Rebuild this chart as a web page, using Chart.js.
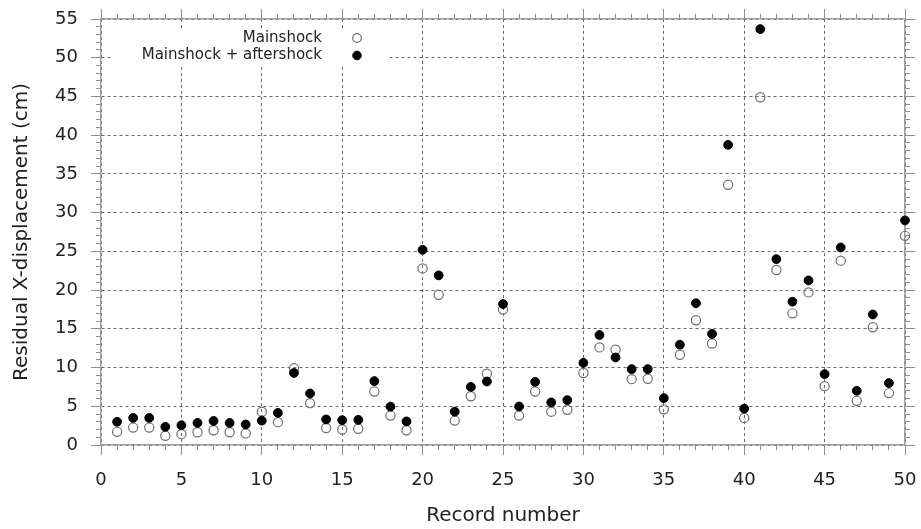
<!DOCTYPE html>
<html>
<head>
<meta charset="utf-8">
<script src="https://cdn.jsdelivr.net/npm/chart.js@4.4.1/dist/chart.umd.min.js"></script>
<style>
  html, body { margin: 0; padding: 0; background: #ffffff; }
  #wrap { width: 921px; height: 529px; }
</style>
</head>
<body>
<div id="wrap"><canvas id="chart" width="921" height="529"></canvas></div>
<script>
// Residual X-displacement per ground-motion record
const recordNumbers = [
  1, 2, 3, 4, 5, 6, 7, 8, 9, 10,
  11, 12, 13, 14, 15, 16, 17, 18, 19, 20,
  21, 22, 23, 24, 25, 26, 27, 28, 29, 30,
  31, 32, 33, 34, 35, 36, 37, 38, 39, 40,
  41, 42, 43, 44, 45, 46, 47, 48, 49, 50
];
const mainshock = [
  1.7, 2.25, 2.25, 1.2, 1.4, 1.65, 1.9, 1.65, 1.5, 4.3,
  2.95, 9.9, 5.4, 2.2, 2.0, 2.1, 6.9, 3.8, 1.9, 22.8,
  19.4, 3.15, 6.3, 9.2, 17.5, 3.8, 6.9, 4.3, 4.55, 9.3,
  12.6, 12.3, 8.5, 8.55, 4.6, 11.65, 16.1, 13.1, 33.6, 3.5,
  44.9, 22.6, 17.0, 19.7, 7.6, 23.8, 5.7, 15.2, 6.7, 27.0
];
const mainshockAftershock = [
  3.0, 3.5, 3.5, 2.35, 2.55, 2.85, 3.1, 2.85, 2.65, 3.15,
  4.15, 9.3, 6.65, 3.3, 3.2, 3.25, 8.25, 4.95, 3.05, 25.2,
  21.9, 4.3, 7.5, 8.2, 18.2, 4.97, 8.15, 5.5, 5.8, 10.6,
  14.2, 11.3, 9.8, 9.8, 6.05, 12.95, 18.3, 14.35, 38.75, 4.7,
  53.7, 24.0, 18.5, 21.25, 9.15, 25.5, 7.0, 16.85, 8.0, 29.0
];
const xMajorTicks = [0, 5, 10, 15, 20, 25, 30, 35, 40, 45, 50];
const yMajorTicks = [0, 5, 10, 15, 20, 25, 30, 35, 40, 45, 50, 55];
const seriesLabels = ['Mainshock', 'Mainshock + aftershock'];
const axisTitles = { x: 'Record number', y: 'Residual X-displacement (cm)' };

const FONT = "'DejaVu Sans', 'Liberation Sans', sans-serif";
const TEXT = '#222222';
const FRAME = '#a0a0a0';
const TICK = '#8c8c8c';
const GRID = 'rgba(70,70,70,0.8)';

Chart.defaults.font.family = FONT;
Chart.defaults.color = TEXT;

const toPoints = (ys) => recordNumbers.map((x, i) => ({ x: x, y: ys[i] }));
const everyUnit = (lo, hi) => { const t = []; for (let v = lo; v <= hi; v++) t.push({ value: v }); return t; };
const setTicks = (list) => (s) => { s.ticks = list.map(v => ({ value: v })); };

// fixed box size; end labels may overhang into the margins
function fixBox(horiz, size) {
  return (s) => {
    if (horiz) s.height = size; else s.width = size;
    s.paddingLeft = s.paddingRight = s.paddingTop = s.paddingBottom = 0;
  };
}

// major axis (labelled or frame side) and its minor companion
function majorAxis(position, min, max, ticks, size, extra) {
  const horiz = position === 'top' || position === 'bottom';
  return Object.assign({
    type: 'linear', position: position, min: min, max: max, weight: 0,
    afterBuildTicks: setTicks(ticks),
    afterFit: fixBox(horiz, size),
    grid: { drawOnChartArea: false, tickLength: 10, tickColor: TICK, tickWidth: 1, color: GRID },
    border: { display: true, color: FRAME, width: 1.5 },
    ticks: { display: false, autoSkip: false }
  }, extra || {});
}
function minorAxis(position, min, max) {
  const horiz = position === 'top' || position === 'bottom';
  return {
    type: 'linear', position: position, min: min, max: max, weight: -1,
    afterBuildTicks: (s) => { s.ticks = everyUnit(min, max); },
    afterFit: fixBox(horiz, 0),
    grid: { drawOnChartArea: false, tickLength: 5, tickColor: TICK, tickWidth: 1 },
    border: { display: false },
    ticks: { display: false, autoSkip: false }
  };
}

// legend drawn inside the plot, on a white patch, text right-aligned before the marker
const insideLegend = {
  id: 'insideLegend',
  afterDatasetsDraw(chart) {
    const ctx = chart.ctx;
    const a = chart.chartArea;
    ctx.save();
    ctx.fillStyle = '#ffffff';
    ctx.fillRect(a.left + 11, a.top + 10, 276, 38);
    ctx.font = '15px ' + FONT;
    ctx.textAlign = 'right';
    ctx.textBaseline = 'middle';
    const rows = [a.top + 19, a.top + 36.5];
    chart.data.datasets.forEach((ds, i) => {
      const y = rows[i];
      ctx.fillStyle = TEXT;
      ctx.fillText(ds.label, a.left + 221, y);
      ctx.beginPath();
      ctx.arc(a.left + 256, y, 4.3, 0, Math.PI * 2);
      ctx.lineWidth = ds.borderWidth;
      ctx.strokeStyle = ds.borderColor;
      if (ds.backgroundColor !== 'rgba(0,0,0,0)') { ctx.fillStyle = ds.backgroundColor; ctx.fill(); }
      ctx.stroke();
    });
    ctx.restore();
  }
};

new Chart(document.getElementById('chart'), {
  type: 'scatter',
  data: {
    datasets: [
      {
        label: seriesLabels[0],
        data: toPoints(mainshock),
        pointRadius: 4.6, pointHoverRadius: 4.6,
        borderWidth: 1.2, borderColor: '#6f6f6f', backgroundColor: 'rgba(0,0,0,0)',
        order: 1, clip: false
      },
      {
        label: seriesLabels[1],
        data: toPoints(mainshockAftershock),
        pointRadius: 4.4, pointHoverRadius: 4.4,
        borderWidth: 1, borderColor: '#000000', backgroundColor: '#000000',
        order: 0, clip: false
      }
    ]
  },
  options: {
    responsive: false,
    animation: false,
    devicePixelRatio: 1,
    layout: { padding: 0 },
    plugins: { legend: { display: false }, tooltip: { enabled: false } },
    scales: {
      x: majorAxis('bottom', 0, 50, xMajorTicks, 84, {
        grid: { drawOnChartArea: true, tickLength: 10, tickColor: TICK, tickWidth: 1, color: GRID, lineWidth: 1 },
        border: { display: true, color: FRAME, width: 1.5, dash: [3, 3] },
        ticks: { display: true, autoSkip: false, maxRotation: 0, padding: 15, font: { size: 18 }, color: TEXT },
        title: { display: true, text: axisTitles.x, font: { size: 20 }, color: TEXT, padding: { top: 0, bottom: 1 } }
      }),
      xMinor: minorAxis('bottom', 0, 50),
      xTop: majorAxis('top', 0, 50, xMajorTicks, 19),
      xTopMinor: minorAxis('top', 0, 50),
      y: majorAxis('left', 0, 55, yMajorTicks, 101, {
        grid: { drawOnChartArea: true, tickLength: 10, tickColor: TICK, tickWidth: 1, color: GRID, lineWidth: 1 },
        border: { display: true, color: FRAME, width: 1.5, dash: [3, 3] },
        ticks: { display: true, autoSkip: false, padding: 13, font: { size: 18 }, color: TEXT },
        title: { display: true, text: axisTitles.y, font: { size: 20 }, color: TEXT, padding: { top: 10, bottom: 0 } }
      }),
      yMinor: minorAxis('left', 0, 55),
      yRight: majorAxis('right', 0, 55, yMajorTicks, 16),
      yRightMinor: minorAxis('right', 0, 55)
    }
  },
  plugins: [insideLegend]
});
</script>
</body>
</html>
